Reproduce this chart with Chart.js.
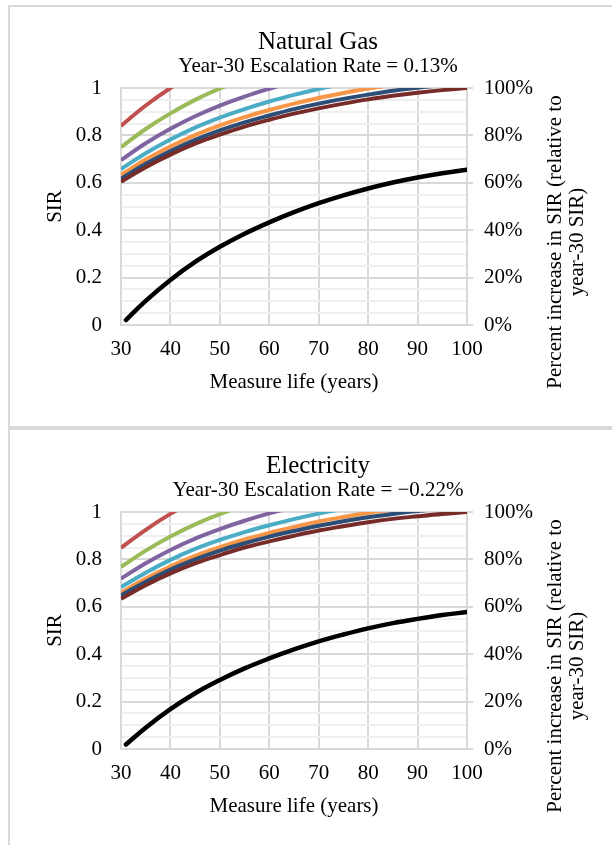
<!DOCTYPE html>
<html>
<head>
<meta charset="utf-8">
<script src="https://cdn.jsdelivr.net/npm/chart.js@4.4.0/dist/chart.umd.min.js"></script>
<style>
  body { margin: 0; background: #fff; width: 612px; height: 845px; overflow: hidden; position: relative; }
  .box { position: absolute; left: 8px; width: 640px; border: 2px solid #D9D9D9; box-sizing: border-box; }
  #box1 { top: 5px; height: 423px; }
  #box2 { top: 428px; height: 440px; }
  canvas { position: absolute; left: 0; }
  #gas { top: 0; }
  #elec { top: 424px; }
</style>
</head>
<body>
<div class="box" id="box1"></div>
<div class="box" id="box2"></div>
<!-- the chart frame runs past the right edge of the page, so the canvas does too -->
<canvas id="gas" width="636" height="424"></canvas>
<canvas id="elec" width="636" height="424"></canvas>
<script>
// measure life (years) where the SIR curves are read
var lifeYears = [30, 35, 40, 45, 50, 55, 60, 65, 70, 75, 80, 85, 90, 95, 100];
// black curve starts one year later
var pctYears = [31, 35, 40, 45, 50, 55, 60, 65, 70, 75, 80, 85, 90, 95, 100];

var seriesColors = ['#C0504D', '#9BBB59', '#8064A2', '#4BACC6', '#F79646', '#2C4D75', '#772C2A'];
var seriesNames = ['40 yr', '50 yr', '60 yr', '70 yr', '80 yr', '90 yr', '100 yr'];

// Natural gas, SIR (clipped at 1 on the chart)
var gasRed    = [0.840, 0.926, 1.000, 1.063];
var gasGreen  = [0.750, 0.827, 0.893, 0.950, 0.998, 1.039];
var gasPurple = [0.696, 0.767, 0.828, 0.881, 0.926, 0.964, 0.997, 1.027];
var gasCyan   = [0.658, 0.725, 0.783, 0.833, 0.875, 0.911, 0.943, 0.971, 0.996, 1.018];
var gasOrange = [0.633, 0.698, 0.753, 0.801, 0.842, 0.877, 0.907, 0.934, 0.958, 0.979, 0.998, 1.013];
var gasBlue   = [0.617, 0.680, 0.734, 0.781, 0.821, 0.855, 0.884, 0.911, 0.934, 0.954, 0.972, 0.988, 1.001, 1.012, 1.021];
var gasBrown  = [0.604, 0.666, 0.719, 0.765, 0.803, 0.837, 0.866, 0.892, 0.914, 0.934, 0.952, 0.967, 0.980, 0.991, 1.000];
// percent increase in SIR relative to year-30 SIR
var gasPct    = [2.1, 10.2, 19.0, 26.6, 33.0, 38.5, 43.3, 47.6, 51.4, 54.7, 57.6, 60.1, 62.2, 64.0, 65.5];

// Electricity
var elecRed    = [0.849, 0.925, 0.992, 1.049];
var elecGreen  = [0.768, 0.837, 0.897, 0.948, 0.991, 1.029];
var elecPurple = [0.719, 0.784, 0.840, 0.888, 0.928, 0.963, 0.994, 1.021];
var elecCyan   = [0.683, 0.744, 0.798, 0.844, 0.882, 0.915, 0.944, 0.970, 0.993, 1.013];
var elecOrange = [0.660, 0.719, 0.771, 0.815, 0.852, 0.884, 0.912, 0.937, 0.960, 0.979, 0.996, 1.010];
var elecBlue   = [0.648, 0.706, 0.757, 0.800, 0.837, 0.868, 0.896, 0.920, 0.942, 0.961, 0.978, 0.992, 1.004, 1.014];
var elecBrown  = [0.634, 0.691, 0.741, 0.783, 0.818, 0.850, 0.876, 0.900, 0.922, 0.940, 0.957, 0.971, 0.982, 0.992, 1.000];
var elecPct    = [1.9, 9.0, 16.8, 23.5, 29.1, 34.0, 38.2, 42.0, 45.4, 48.3, 50.9, 53.1, 54.9, 56.5, 57.8];

var xTicks = [30, 40, 50, 60, 70, 80, 90, 100];
var rightTicks = [0, 20, 40, 60, 80, 100];
var rightTitle = ['Percent increase in SIR (relative to', 'year-30 SIR)'];

var FONT = 'Liberation Serif';

function pairs(xs, ys)
{
  var out = [];
  for (var i = 0; i < ys.length; i++) out.push({x: xs[i], y: ys[i]});
  return out;
}

// right axis title reads bottom to top, like Excel
var rightTitlePlugin = {
  id: 'rightTitle',
  afterDraw: function(chart)
  {
    var ctx = chart.ctx;
    var a = chart.chartArea;
    ctx.save();
    ctx.fillStyle = '#000';
    ctx.font = '21px "' + FONT + '"';
    ctx.textAlign = 'center';
    ctx.textBaseline = 'middle';
    ctx.translate(a.right + 88, a.top + 154);
    ctx.rotate(-Math.PI / 2);
    ctx.fillText(rightTitle[0], 0, 0);
    ctx.fillText(rightTitle[1], 0, 22);
    ctx.restore();
  }
};

function makeChart(id, title, subtitle, sir, pct)
{
  var datasets = [];
  for (var i = 0; i < sir.length; i++)
  {
    datasets.push({
      label: seriesNames[i],
      data: pairs(lifeYears, sir[i]),
      borderColor: seriesColors[i],
      backgroundColor: seriesColors[i],
      borderWidth: 4,
      pointRadius: 0,
      tension: 0.4,
      fill: false,
      clip: 0,
      yAxisID: 'y',
      order: sir.length - i + 1
    });
  }
  datasets.push({
    label: 'Percent increase',
    data: pairs(pctYears, pct),
    borderColor: '#000',
    backgroundColor: '#000',
    borderWidth: 4.5,
    pointRadius: 0,
    tension: 0.4,
    borderCapStyle: 'round',
    fill: false,
    yAxisID: 'y1',
    order: 0
  });

  return new Chart(document.getElementById(id), {
    type: 'line',
    data: { datasets: datasets },
    options: {
      responsive: false,
      animation: false,
      layout: { padding: { left: 0, right: 0, top: 0, bottom: 0 } },
      plugins: {
        legend: { display: false },
        tooltip: { enabled: false },
        title: {
          display: true, text: title, color: '#000',
          font: { family: FONT, size: 25, weight: 'normal', lineHeight: 1 },
          padding: { top: 30, bottom: 0 }
        },
        subtitle: {
          display: true, text: subtitle, color: '#000',
          font: { family: FONT, size: 21, weight: 'normal', lineHeight: 1 },
          padding: { top: 1, bottom: 11 }
        }
      },
      scales: {
        x: {
          type: 'linear', min: 30, max: 100,
          afterBuildTicks: function(s) { s.ticks = xTicks.map(function(v) { return {value: v}; }); },
          afterFit: function(s) { s.height = 99; },
          grid: { color: '#D9D9D9', lineWidth: 2, drawTicks: false },
          border: { color: '#D9D9D9', width: 2 },
          ticks: { color: '#000', padding: 12, maxRotation: 0, font: { family: FONT, size: 21 } },
          title: { display: true, text: 'Measure life (years)', color: '#000',
                   font: { family: FONT, size: 21 }, padding: { top: 0, bottom: 29 } }
        },
        y: {
          position: 'left', min: 0, max: 1,
          ticks: {
            stepSize: 0.05, autoSkip: false, color: '#000', padding: 19,
            font: { family: FONT, size: 21 },
            callback: function(v) {
              var k = Math.round(v * 100);
              return (k % 20 === 0) ? String(k / 100) : '';
            }
          },
          afterFit: function(s) { s.width = 121; },
          grid: {
            drawTicks: false, lineWidth: 2,
            color: function(c) { return Math.round(c.tick.value * 100) % 20 === 0 ? '#D9D9D9' : '#EFEFEF'; }
          },
          border: { color: '#D9D9D9', width: 2 },
          title: { display: true, text: 'SIR', color: '#000',
                   font: { family: FONT, size: 21 }, padding: { top: 43, bottom: 0 } }
        },
        y1: {
          position: 'right', min: 0, max: 100,
          afterBuildTicks: function(s) { s.ticks = rightTicks.map(function(v) { return {value: v}; }); },
          afterFit: function(s) { s.width = 169; },
          ticks: {
            color: '#000', padding: 11, font: { family: FONT, size: 21 },
            callback: function(v) { return v + '%'; }
          },
          grid: { drawOnChartArea: false, drawTicks: true, tickLength: 6, color: '#D9D9D9', lineWidth: 2 },
          border: { color: '#D9D9D9', width: 2 }
        }
      }
    },
    plugins: [rightTitlePlugin]
  });
}

makeChart('gas', 'Natural Gas', 'Year-30 Escalation Rate = 0.13%',
  [gasRed, gasGreen, gasPurple, gasCyan, gasOrange, gasBlue, gasBrown], gasPct);
makeChart('elec', 'Electricity', 'Year-30 Escalation Rate = \u22120.22%',
  [elecRed, elecGreen, elecPurple, elecCyan, elecOrange, elecBlue, elecBrown], elecPct);
</script>
</body>
</html>
